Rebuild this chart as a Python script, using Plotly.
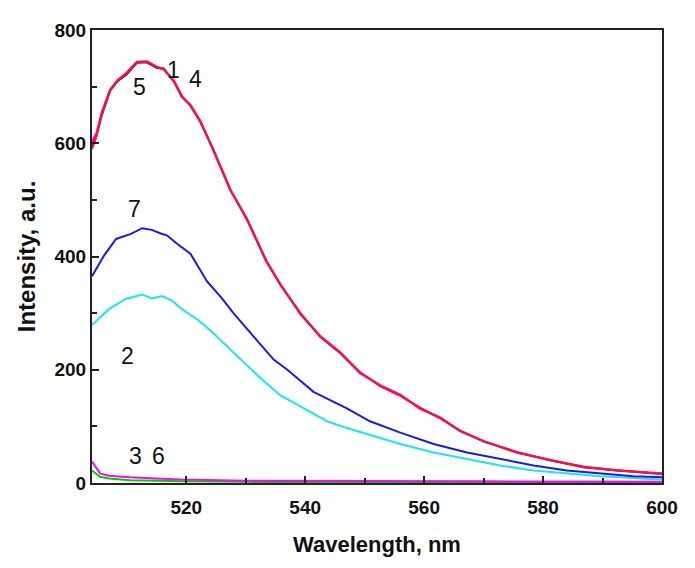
import plotly.graph_objects as go

# Curves 1, 4, 5 (nearly overlapping)
wl_main = [504.15, 504.9, 505.8, 507.2, 508.5, 510.0, 511.7, 513.4, 515.1, 516.2, 517.9, 519.3, 520.7,
           522.4, 524.6, 527.4, 530.2, 533.5, 535.8, 539.2, 542.5, 545.9, 549.2, 552.6, 556.0,
           559.3, 562.7, 566.0, 570.0, 575.6, 581.2, 586.8, 592.4, 600.0]
int_1 = [593, 614, 650, 693, 710, 722, 742, 743, 733, 732, 710, 682, 667,
         638, 587, 518, 466, 391, 351, 299, 259, 230, 195, 172, 155,
         132, 115, 92, 74, 54, 40, 28, 22, 16]
int_4 = [590, 612, 652, 694, 712, 724, 743, 744, 734, 730, 711, 683, 666,
         637, 588, 519, 465, 392, 350, 300, 258, 229, 196, 171, 154,
         133, 114, 93, 73, 55, 40, 29, 22, 17]
int_5 = [603, 618, 655, 695, 711, 725, 744, 745, 735, 731, 709, 681, 668,
         639, 586, 517, 467, 390, 352, 298, 260, 231, 194, 173, 156,
         131, 116, 92, 74, 54, 41, 28, 23, 16]

# Curve 7 (blue)
wl_7 = [504.15, 506.2, 508.2, 510.7, 512.6, 514.2, 515.6, 516.8, 518.4, 520.7, 523.5, 526.0,
        528.0, 531.9, 534.7, 537.0, 541.4, 547.0, 550.9, 556.0, 561.6, 567.2, 572.8,
        578.4, 584.0, 589.6, 595.2, 600.0]
int_7 = [365, 402, 431, 440, 450, 447, 441, 437, 423, 405, 356, 326,
         299, 253, 218, 200, 161, 132, 109, 89, 69, 54, 43,
         31, 22, 17, 12, 10]

# Curve 2 (cyan)
wl_2 = [504.15, 507.0, 509.8, 512.6, 514.2, 515.9, 517.6, 519.3, 522.1, 524.3, 527.0, 529.8,
        532.5, 535.8, 540.3, 543.7, 547.0, 550.0, 553.0, 556.0, 561.6, 567.2, 572.8,
        578.4, 584.0, 589.6, 595.0, 600.0]
int_2 = [279, 307, 325, 333, 326, 330, 322, 307, 287, 267, 240, 212,
         185, 155, 129, 109, 97, 88, 78, 69, 54, 43, 31,
         22, 17, 12, 9, 6]

# Curves 3 and 6 (near zero)
wl_low = [504.15, 504.4, 505.5, 507.0, 510.5, 515.0, 519.0, 530.0, 550.0, 570.0, 600.0]
int_3 = [38, 34, 17, 13, 10, 8, 6, 4, 3, 3, 2]
int_6 = [22, 20, 11, 8, 5, 4, 3, 2, 2, 2, 1]

labels = ["1", "4", "5", "7", "2", "3", "6"]
label_x = [517.9, 521.6, 512.1, 511.3, 510.1, 511.4, 515.4]
label_y = [730, 714, 700, 484, 224, 48, 48]

x_ticks = [520, 540, 560, 580, 600]
y_ticks = [0, 200, 400, 600, 800]

FONT = "Liberation Sans, Arial"

fig = go.Figure()
fig.add_trace(go.Scatter(x=wl_low, y=int_6, mode="lines", line=dict(color="#00cc00", width=2)))
fig.add_trace(go.Scatter(x=wl_low, y=int_3, mode="lines", line=dict(color="#ff00ff", width=2)))
fig.add_trace(go.Scatter(x=wl_2, y=int_2, mode="lines", line=dict(color="#19e6f0", width=2)))
fig.add_trace(go.Scatter(x=wl_7, y=int_7, mode="lines", line=dict(color="#1a1ae6", width=2)))
fig.add_trace(go.Scatter(x=wl_main, y=int_1, mode="lines", line=dict(color="#222222", width=2)))
fig.add_trace(go.Scatter(x=wl_main, y=int_5, mode="lines", line=dict(color="#ff00cc", width=2)))
fig.add_trace(go.Scatter(x=wl_main, y=int_4, mode="lines", line=dict(color="#ff1030", width=2)))

for t, x, y in zip(labels, label_x, label_y):
    fig.add_annotation(x=x, y=y, text=t, showarrow=False,
                       font=dict(family=FONT, size=23, color="#111111"))

axis_common = dict(showline=True, linecolor="#222222", linewidth=2, mirror=True,
                   ticks="inside", ticklen=7, tickwidth=1.5, tickcolor="#222222",
                   showgrid=False, zeroline=False,
                   tickfont=dict(family=FONT, size=19, color="#111111", weight="bold"))

fig.update_xaxes(range=[504.15, 600], tickvals=x_ticks, ticklabelstandoff=6,
                 minor=dict(tickvals=[530, 550, 570, 590], ticks="inside", ticklen=5, tickcolor="#222222"),
                 title=dict(text="<b>Wavelength, nm</b>", standoff=20,
                            font=dict(family=FONT, size=22, color="#111111")),
                 **axis_common)
fig.update_yaxes(range=[0, 800], tickvals=y_ticks,
                 minor=dict(tickvals=[100, 300, 500, 700], ticks="inside", ticklen=5, tickcolor="#222222"),
                 title=dict(text="<b>Intensity, a.u.</b>", standoff=12,
                            font=dict(family=FONT, size=24, color="#111111")),
                 **axis_common)

fig.update_layout(width=695, height=568, showlegend=False,
                  margin=dict(l=84, r=41, t=12, b=93),
                  plot_bgcolor="white", paper_bgcolor="white")

fig.write_html("out.html")
